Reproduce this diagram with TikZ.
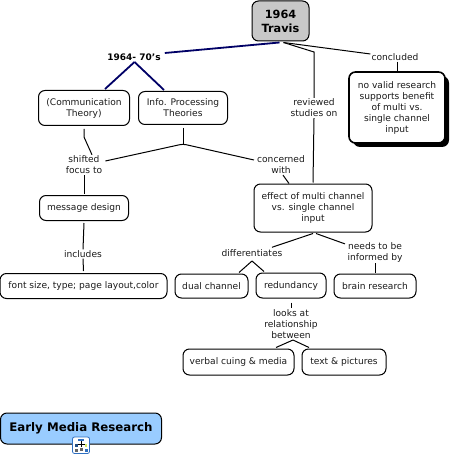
\documentclass[tikz,border=0pt]{standalone}
\usepackage{fontspec}
\setmainfont{DejaVu Sans}
\definecolor{MapInk}{HTML}{1A1A1A}
\definecolor{MapNavy}{HTML}{000066}
\definecolor{MapGrey}{HTML}{C8C8C8}
\definecolor{MapBlue}{HTML}{99CCFF}
\definecolor{MapIcon}{HTML}{2F6FC0}
\tikzset{
  mapbox/.style={draw=black,line width=1pt,rounded corners=6.5pt,align=center,inner sep=0pt,
    text=MapInk,font=\fontsize{9.1}{11}\selectfont},
  maplabel/.style={align=center,inner sep=1pt,text=MapInk,font=\fontsize{9.1}{11}\selectfont},
  mapline/.style={draw=black,line width=1pt},
  navyline/.style={draw=MapNavy,line width=1.8pt}
}

\begin{document}
\begin{tikzpicture}[x=1pt,y=-1pt]
    \useasboundingbox (0,0) rectangle (451,457);

    % concept boxes
    \node[mapbox,fill=MapGrey,minimum width=57pt,minimum height=40pt,text=black,
      font=\bfseries\fontsize{11.3}{14}\selectfont] (travis) at (280.5,21) {1964\\Travis};
    \node[mapbox,minimum width=91pt,minimum height=35pt] (commtheory) at (84,108) {(Communication\\Theory)};
    \node[mapbox,minimum width=89pt,minimum height=33pt] (infotheory) at (183,108) {Info. Processing\\Theories};
    \node[mapbox,minimum width=89pt,minimum height=25pt] (msgdesign) at (84,208) {message design};
    \node[mapbox,minimum width=167pt,minimum height=25pt] (fontsize) at (83.5,286) {font size, type; page layout,color};
    \node[mapbox,minimum width=118pt,minimum height=48pt] (effect) at (313,208) {effect of multi channel\\vs. single channel\\input};
    \node[mapbox,minimum width=73pt,minimum height=24pt] (dualch) at (211.5,286) {dual channel};
    \node[mapbox,minimum width=70pt,minimum height=25pt] (redund) at (291,285.5) {redundancy};
    \node[mapbox,minimum width=82pt,minimum height=24pt] (brain) at (375,286) {brain research};
    \node[mapbox,minimum width=111pt,minimum height=26pt] (verbal) at (238.5,362) {verbal cuing \& media};
    \node[mapbox,minimum width=84pt,minimum height=26pt] (textpic) at (344,362) {text \& pictures};

    % the boxed conclusion, with its heavy shadow
    \fill[black,rounded corners=7pt] (353,76) rectangle (449,147);
    \node[mapbox,fill=white,line width=1.6pt,minimum width=96pt,minimum height=71pt] (novalid) at (397,107.5)
      {no valid research\\supports benefit\\of multi vs.\\single channel\\input};

    % link labels
    \node[maplabel,text=black,font=\bfseries\fontsize{9}{11}\selectfont] (years) at (134,57) {1964- 70's};
    \node[maplabel] (concluded) at (395,57) {concluded};
    \node[maplabel] (reviewed) at (314,108) {reviewed\\studies on};
    \node[maplabel] (shifted) at (84,165) {shifted\\focus to};
    \node[maplabel] (concerned) at (281,165) {concerned\\with};
    \node[maplabel] (includes) at (83,254) {includes};
    \node[maplabel] (differ) at (252,253) {differentiates};
    \node[maplabel] (needs) at (375,252) {needs to be\\informed by};
    \node[maplabel] (looks) at (291,324) {looks at\\relationship\\between};

    % bends and forks
    \coordinate (revbend) at (314,52);
    \coordinate (shiftbend) at (84,137);
    \coordinate (infofork) at (183,144);
    \coordinate (yearsfork) at (134.5,62);
    \coordinate (differfork) at (252,261);
    \coordinate (looksfork) at (293,340);

    % links
    \draw[navyline] ([xshift=-1pt,yshift=-1pt]travis.south) -- ([xshift=3pt,yshift=4pt]years.east);
    \draw[navyline] (yearsfork) -- (105,89);
    \draw[navyline] (yearsfork) -- (164,90);
    \draw[mapline] ([xshift=3pt,yshift=-1pt]travis.south) -- (revbend) -- (reviewed.north);
    \draw[mapline] ([xshift=3pt,yshift=-1pt]travis.south) -- ([yshift=3pt]concluded.west);
    \draw[mapline] ([xshift=2pt]concluded.south) -- (novalid.north);
    \draw[mapline] (reviewed.south) -- ([yshift=1pt]effect.north);
    \draw[mapline] ([yshift=-3pt]commtheory.south) -- (shiftbend) -- ([xshift=8pt]shifted.north);
    \draw[mapline] (shifted.south) -- ([yshift=1pt]msgdesign.north);
    \draw[mapline] ([yshift=-3pt]infotheory.south) -- (infofork);
    \draw[mapline,rounded corners=3pt] ([xshift=2pt,yshift=4pt]shifted.east) -- (infofork) -- ([xshift=-2pt,yshift=5pt]concerned.west);
    \draw[mapline] ([xshift=2pt]concerned.south) -- ([xshift=-24pt]effect.north);
    \draw[mapline] ([yshift=-2pt]msgdesign.south) -- (includes.north);
    \draw[mapline] (includes.south) -- ([yshift=2pt]fontsize.north);
    \draw[mapline] ([yshift=-1pt]effect.south) -- ([xshift=20pt,yshift=1pt]differ.north);
    \draw[mapline] ([xshift=3pt,yshift=-1pt]effect.south) -- ([xshift=-30pt,yshift=-3pt]needs.north);
    \draw[mapline] (differfork) -- ([xshift=27.5pt,yshift=1pt]dualch.north);
    \draw[mapline] (differfork) -- ([xshift=-27pt,yshift=1pt]redund.north);
    \draw[mapline] (needs.south) -- ([yshift=1pt]brain.north);
    \draw[mapline] ([yshift=-4pt]redund.south) -- (looks.north);
    \draw[mapline] (looksfork) -- ([xshift=37.5pt,yshift=1pt]verbal.north);
    \draw[mapline] (looksfork) -- ([xshift=-35pt,yshift=1pt]textpic.north);

    % map title with its small icon
    \node[mapbox,fill=MapBlue,minimum width=161pt,minimum height=31pt,text=black,
      font=\bfseries\fontsize{11.8}{13}\selectfont,anchor=center] (title) at (81,428.5) {\raisebox{2.5pt}{Early Media Research}};
    \draw[draw=MapIcon,fill=white,line width=0.8pt,rounded corners=2pt] (72.5,437) rectangle (89.5,453.5);
    \draw[black,line width=0.5pt] (81,440) -- (81,444) (76,447) -- (76,444) -- (86,444) -- (86,447) (81,444) -- (81,447);
    \fill[MapIcon] (78,438.5) rectangle (84,441);
    \fill[MapIcon!70!black] (75,444) rectangle (78,447);
    \fill[MapBlue!40!yellow] (84.5,444) rectangle (87,447);
    \fill[black!60] (74.5,449) rectangle (77.5,451.5);
    \fill[black!60] (79.5,448) rectangle (82.5,450.5);
    \fill[MapIcon] (84.5,449) rectangle (87.5,451.5);
  \end{tikzpicture}
\end{document}
